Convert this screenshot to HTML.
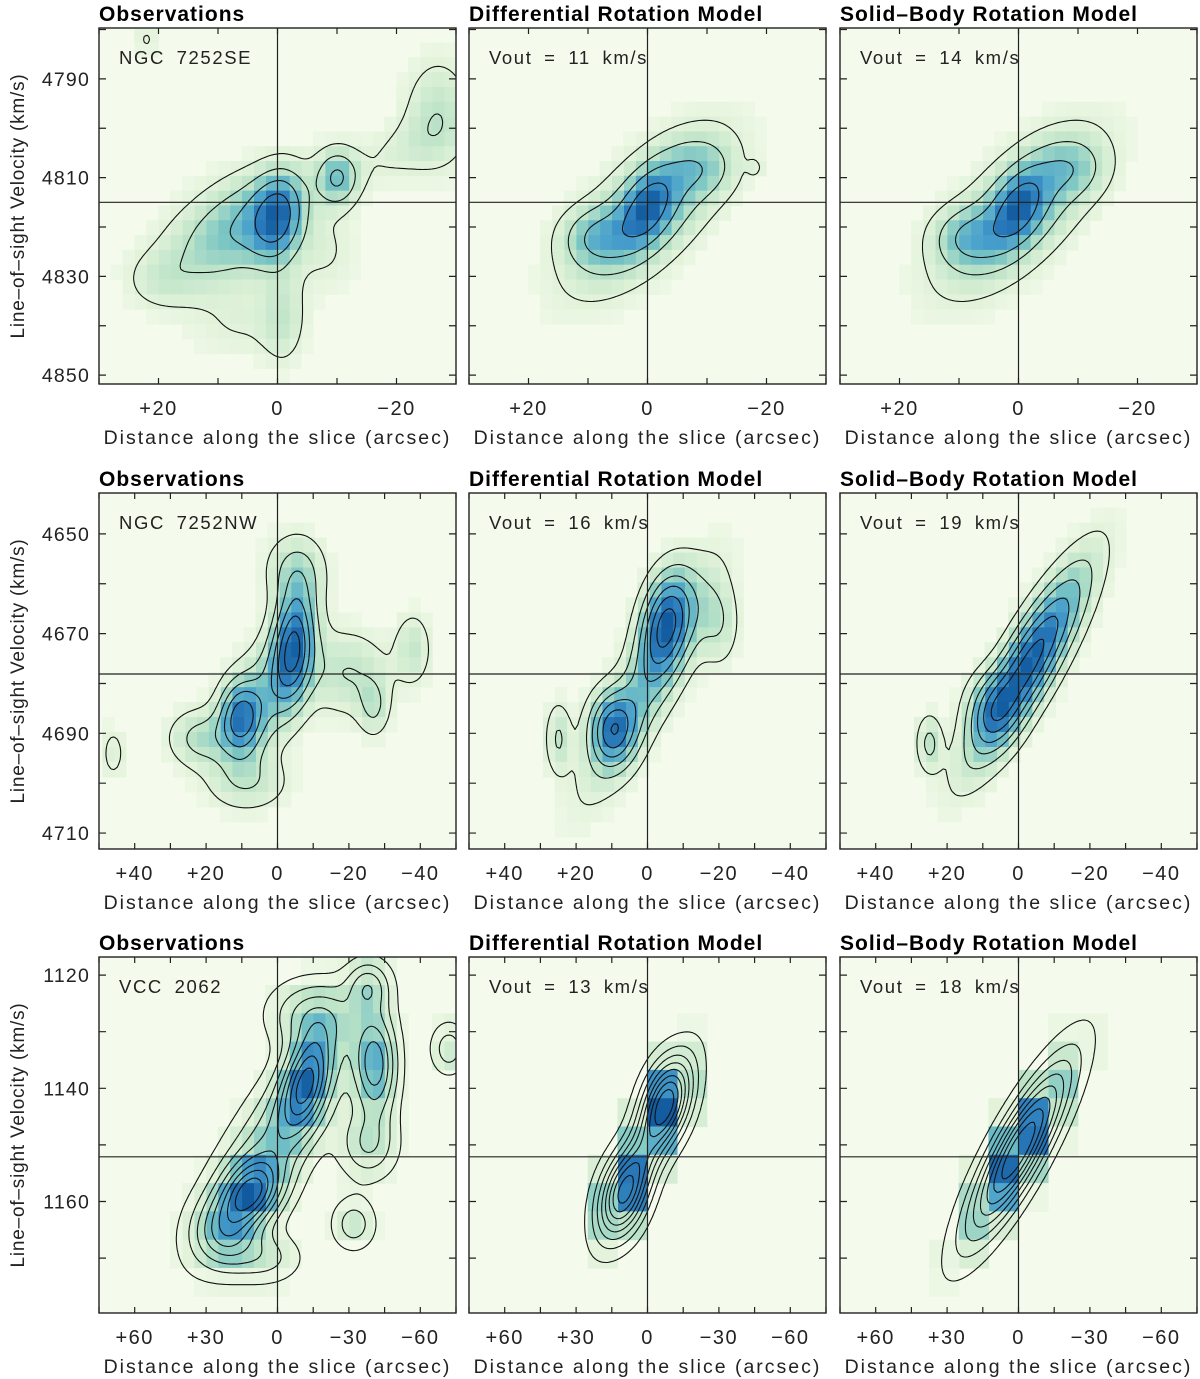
<!DOCTYPE html>
<html><head><meta charset="utf-8"><style>
html,body{margin:0;padding:0;background:#fff;}
svg{display:block;font-family:"Liberation Sans",sans-serif;}
</style></head><body>
<svg id="fig" width="1200" height="1379" viewBox="0 0 1200 1379" xmlns="http://www.w3.org/2000/svg"></svg>
<script>
// ---------- data ----------
const panelTitles = ["Observations","Differential Rotation Model","Solid\u2013Body Rotation Model"];
const row1Labels = ["NGC 7252SE","Vout = 11 km/s","Vout = 14 km/s"];
const row2Labels = ["NGC 7252NW","Vout = 16 km/s","Vout = 19 km/s"];
const row3Labels = ["VCC 2062","Vout = 13 km/s","Vout = 18 km/s"];
const row1YTicks = [4790,4810,4830,4850];
const row2YTicks = [4650,4670,4690,4710];
const row3YTicks = [1120,1140,1160];
const row1XTicks = [20,0,-20];
const row2XTicks = [40,20,0,-20,-40];
const row3XTicks = [60,30,0,-30,-60];
const row1Range = {xmax:30, vmin:4779.7, vmax:4851.8, vsys:4815, xMinor:10, vMinor:10};
const row2Range = {xmax:50, vmin:4641.8, vmax:4713.2, vsys:4678.1, xMinor:10, vMinor:10};
const row3Range = {xmax:75, vmin:1116.8, vmax:1179.7, vsys:1152.1, xMinor:15, vMinor:10};
// emission components: [offset arcsec, velocity km/s, amplitude, sigma_x, sigma_v, correlation]
const se_obs = [[0,4818,1,3,6,0.2],[-10,4810,0.7,2.5,4,0],[5,4818,0.5,6,7,0.3],[12,4825,0.35,7,7,0.2],[20,4831,0.2,4,4,0],[-27,4797,0.38,4,8,0],[-20,4805,0.2,6,5,0.5],[-1,4838,0.3,2.5,7,0],[6,4840,0.18,6,5,0],[-8,4825,0.2,4,6,0],[22,4782,0.2,1.5,2.5,0]];
const se_diff = [[0,4816,0.6,3,5,0.4],[0,4817,0.6,9,11,0.65],[9,4822,0.35,4,4,0],[-9,4808,0.25,4,4,0],[-18,4808,0.16,0.8,1.2,0]];
const se_solid = [[0,4816,0.6,3,5,0.4],[0,4817,0.6,9,11,0.65],[9,4822,0.35,4,4,0],[-9,4808,0.25,4,4,0]];
const nw_obs = [[-4.5,4672,1,4,8,0.2],[10.5,4687,0.8,4,5,0],[3,4682,0.5,8,9,0.5],[22,4691,0.4,6,4,0],[-20,4678,0.35,8,6,0],[-38,4673,0.32,3.5,5,0],[-27,4685,0.3,3,4,0],[46,4694,0.22,2.5,4,0],[8,4700,0.3,8,4,0],[-5,4657,0.35,6,5,0]];
const nw_diff = [[-5,4667,0.9,5,7,0.3],[10,4689,0.75,4.5,5,0],[0,4680,0.55,12,15,0.85],[25,4691,0.35,2.5,5,0],[-20,4668,0.3,4,6,0]];
const nw_solid = [[-3,4676,0.95,11,13,0.85],[8,4685,0.3,5,5,0],[25,4692,0.3,2.5,4,0]];
const vcc_obs = [[11,1158.6,0.9,9,4,0.3],[-12,1138.7,0.85,7,6,0.4],[-41,1136,0.75,6,6,0],[0,1148,0.5,20,12,0.8],[22,1166,0.5,9,4,0],[-38,1122,0.4,6,3,0],[-15,1127,0.4,12,4,0],[-32,1164,0.3,6,3,0],[-72,1133,0.3,5,3,0],[-38,1150,0.35,8,4,0],[5,1170,0.25,10,3,0]];
const vcc_diff = [[10.5,1159,0.8,7,5,0.3],[-8,1142,0.8,7,5,0.3],[0,1150,0.6,11,9,0.8]];
const vcc_solid = [[0,1151,1,14,10,0.85]];
const rowData = [
 {range:row1Range, yt:row1YTicks, xt:row1XTicks, labels:row1Labels, comps:[se_obs,se_diff,se_solid], top:28, cdx:[2,2,2], cdv:[3,3,3], levels:[0.13,0.3,0.5,0.75]},
 {range:row2Range, yt:row2YTicks, xt:row2XTicks, labels:row2Labels, comps:[nw_obs,nw_diff,nw_solid], top:493, cdx:[3.3,3.3,3.3], cdv:[3,3,3], levels:[0.12,0.27,0.42,0.58,0.74,0.9]},
 {range:row3Range, yt:row3YTicks, xt:row3XTicks, labels:row3Labels, comps:[vcc_obs,vcc_diff,vcc_solid], top:957, cdx:[5,12.5,12.5], cdv:[5,5,5], levels:[0.07,0.17,0.28,0.4,0.52,0.64,0.76,0.88]}
];
const colLefts = [99,469,840];
const PW = 357, PH = 356;
// ---------- helpers ----------
const NS = "http://www.w3.org/2000/svg";
const svg = document.getElementById("fig");
function mk(tag, attrs, parent){ const e=document.createElementNS(NS,tag); for(const k in attrs) e.setAttribute(k,attrs[k]); (parent||svg).appendChild(e); return e; }
function field(comps,x,v){ let s=0; for(const c of comps){ const dx=(x-c[0])/c[3], dv=(v-c[1])/c[4], r=c[5]; const q=(dx*dx+dv*dv-2*r*dx*dv)/(1-r*r); s+=c[2]*Math.exp(-0.5*q);} return s; }
const stops=[[0,[244,250,236]],[0.12,[226,243,218]],[0.28,[190,228,200]],[0.45,[120,196,196]],[0.62,[72,160,204]],[0.78,[40,120,185]],[1,[10,80,150]]];
function cmap(t){ t=Math.max(0,Math.min(1,t)); for(let i=1;i<stops.length;i++){ if(t<=stops[i][0]){ const a=stops[i-1],b=stops[i]; const f=(t-a[0])/(b[0]-a[0]); return "rgb("+a[1].map((c,j)=>Math.round(c+(b[1][j]-c)*f)).join(",")+")"; } } return "rgb(10,80,150)"; }
function fmtX(t){ return t>0?"+"+t:(t<0?"\u2212"+(-t):"0"); }

rowData.forEach((row,ri)=>{
  const R=row.range;
  for(let ci=0;ci<3;ci++){
    const L=colLefts[ci], T=row.top;
    const X=x=>L+(R.xmax-x)/(2*R.xmax)*PW;
    const Y=v=>T+(v-R.vmin)/(R.vmax-R.vmin)*PH;
    const g=mk("g",{});
    
    
    const cid="clip"+ri+ci;
    const cp=mk("clipPath",{id:cid},g); mk("rect",{x:L,y:T,width:PW,height:PH},cp);
    const bg=mk("rect",{x:L,y:T,width:PW,height:PH,fill:"#f4faec"},g);
    
    
    const comps=row.comps[ci];
    let mx=0; for(let i=0;i<=120;i++)for(let j=0;j<=120;j++){ const x=R.xmax-2*R.xmax*i/120, v=R.vmin+(R.vmax-R.vmin)*j/120; mx=Math.max(mx,field(comps,x,v)); }
    const hg=mk("g",{"clip-path":"url(#"+cid+")"},g);
    
    
    const dx=row.cdx[ci], dv=row.cdv[ci];
    for(let x0=-R.xmax-dx; x0<R.xmax+dx; x0+=dx){
      for(let v0=R.vmin-dv; v0<R.vmax+dv; v0+=dv){
        const val=field(comps,x0+dx/2,v0+dv/2)/mx;
        if(val<0.05) continue;
        const r=mk("rect",{x:X(x0+dx)-0.3,y:Y(v0)-0.3,width:X(x0)-X(x0+dx)+0.6,height:Y(v0+dv)-Y(v0)+0.6,fill:cmap(val*0.95)},hg);
        
        
      }
    }
    const N=118, grid=[];
    for(let i=0;i<=N;i++){ grid.push([]); for(let j=0;j<=N;j++){ const px=L+PW*i/N, py=T+PH*j/N; const x=R.xmax-(px-L)/PW*2*R.xmax, v=R.vmin+(py-T)/PH*(R.vmax-R.vmin); grid[i].push(field(comps,x,v)/mx);} }
    let d="";
    for(const lv of row.levels){
      for(let i=0;i<N;i++)for(let j=0;j<N;j++){
        const p=[[i,j],[i+1,j],[i+1,j+1],[i,j+1]];
        const vals=p.map(q=>grid[q[0]][q[1]]);
        const pts=[];
        for(let k=0;k<4;k++){ const a=vals[k],b=vals[(k+1)%4]; if((a>=lv)!==(b>=lv)){ const f=(lv-a)/(b-a); const pa=p[k],pb=p[(k+1)%4]; pts.push([L+PW*(pa[0]+(pb[0]-pa[0])*f)/N, T+PH*(pa[1]+(pb[1]-pa[1])*f)/N]); } }
        for(let k=0;k+1<pts.length;k+=2) d+="M"+pts[k][0].toFixed(1)+" "+pts[k][1].toFixed(1)+"L"+pts[k+1][0].toFixed(1)+" "+pts[k+1][1].toFixed(1);
      }
    }
    const cpath=mk("path",{d:d,fill:"none",stroke:"#111",'stroke-width':1.1,'clip-path':"url(#"+cid+")"},g);
    
    
    const vl=mk("line",{x1:X(0),x2:X(0),y1:T,y2:T+PH,stroke:"#222",'stroke-width':1.2},g);
    
    
    const hl=mk("line",{x1:L,x2:L+PW,y1:Y(R.vsys),y2:Y(R.vsys),stroke:"#222",'stroke-width':1.2},g);
    
    
    const fr=mk("rect",{x:L,y:T,width:PW,height:PH,fill:"none",stroke:"#222",'stroke-width':1.4},g);
    
    
    let td="";
    for(let t=-Math.floor(R.xmax/R.xMinor)*R.xMinor; t<=R.xmax; t+=R.xMinor){ const x=X(t); td+="M"+x+" "+T+"v6M"+x+" "+(T+PH)+"v-6"; }
    for(let v=Math.ceil(R.vmin/R.vMinor)*R.vMinor; v<=R.vmax; v+=R.vMinor){ const y=Y(v); td+="M"+L+" "+y+"h7M"+(L+PW)+" "+y+"h-7"; }
    const tk=mk("path",{d:td,stroke:"#222",'stroke-width':1.2,fill:"none"},g);
    
    
    row.xt.forEach(t=>{ const e=mk("text",{x:X(t),y:T+PH+31,'text-anchor':'middle','font-size':20,fill:'#222','letter-spacing':'1.5'},g); e.textContent=fmtX(t);
      
       });
    const xt=mk("text",{x:L+PW/2,y:T+PH+60,'text-anchor':'middle','font-size':19.5,fill:'#222','letter-spacing':'2'},g);
    xt.textContent="Distance along the slice (arcsec)";
    
    
    const ti=mk("text",{x:L,y:T-7,'font-size':21,fill:'#000','letter-spacing':'1','font-weight':'bold'},g);
    ti.textContent=panelTitles[ci];
    
    
    const lb=mk("text",{x:L+20,y:T+36,'font-size':18.5,fill:'#222','letter-spacing':'1.6','word-spacing':'5'},g);
    lb.textContent=row.labels[ci];
    
    
    if(ci===0){
      row.yt.forEach(v=>{ const e=mk("text",{x:L-9,y:Y(v)+7,'text-anchor':'end','font-size':19.5,fill:'#222','letter-spacing':'1.2'},g); e.textContent=v;
        
         });
      const yt=mk("text",{x:0,y:0,'text-anchor':'middle','font-size':19,fill:'#222','letter-spacing':'0.8',transform:"translate(24,"+(T+PH/2)+") rotate(-90)"},g);
      yt.textContent="Line\u2013of\u2013sight Velocity (km/s)";
      
      
    }
  }
});
</script>
</body></html>
